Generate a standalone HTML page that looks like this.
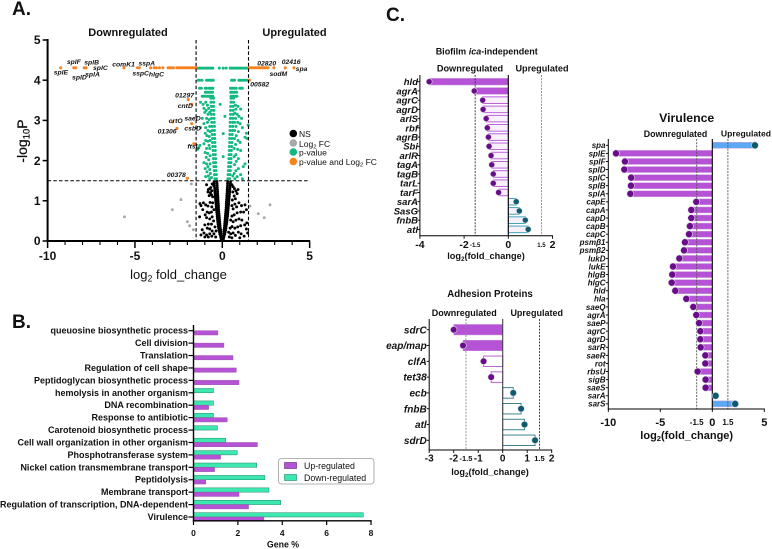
<!DOCTYPE html>
<html>
<head>
<meta charset="utf-8">
<style>
html,body{margin:0;padding:0;background:#fff;}
svg{display:block;}
text{font-family:"Liberation Sans",sans-serif;fill:#111;}
</style>
</head>
<body>
<svg id="fig" width="772" height="549" viewBox="0 0 772 549" xmlns="http://www.w3.org/2000/svg">
<rect width="772" height="549" fill="#fff"/>
<text x="12" y="15" font-size="19" font-weight="bold">A.</text>
<text x="12" y="328" font-size="19" font-weight="bold">B.</text>
<text x="386" y="21" font-size="19" font-weight="bold">C.</text>

<text x="128" y="36" font-size="11" font-weight="bold" text-anchor="middle">Downregulated</text>
<text x="294.5" y="36" font-size="11" font-weight="bold" text-anchor="middle">Upregulated</text>
<text x="178.5" y="279" font-size="13" text-anchor="middle" fill="#222">log<tspan font-size="8.8" dy="2.5">2</tspan><tspan dy="-2.5"> fold_change</tspan></text>
<text transform="rotate(-90 27 141)" x="27" y="141" font-size="14" text-anchor="middle" stroke="#111" stroke-width="0.25">-log<tspan font-size="9.5" dy="2.5">10</tspan><tspan dy="-2.5">P</tspan></text>

<g>
<circle cx="293.3" cy="133.5" r="3.8" fill="#000"/>
<circle cx="293.3" cy="143" r="3.8" fill="#a8a8ab"/>
<circle cx="293.3" cy="152" r="3.8" fill="#12b981"/>
<circle cx="293.3" cy="161.5" r="3.8" fill="#f5821f"/>
<text x="299" y="137" font-size="8.5" fill="#333">NS</text>
<text x="299" y="147" font-size="8.5" fill="#333">Log<tspan font-size="5.8" dy="1.5">2</tspan><tspan dy="-1.5"> FC</tspan></text>
<text x="299" y="155.5" font-size="8.5" fill="#333">p-value</text>
<text x="299" y="165" font-size="8.5" fill="#333">p-value and Log<tspan font-size="5.8" dy="1.5">2</tspan><tspan dy="-1.5"> FC</tspan></text>
</g>

<text x="283" y="547.5" font-size="8.8" font-weight="bold" text-anchor="middle">Gene %</text>
<g>
<rect x="278.5" y="458.5" width="95.5" height="25.5" rx="3" fill="#fff" stroke="#9a9a9a" stroke-width="0.8"/>
<rect x="284.5" y="462.5" width="12" height="6" fill="#b552d6" stroke="#5b2a6e" stroke-width="0.6"/>
<rect x="284.5" y="474.5" width="12" height="6" fill="#3de8b0" stroke="#1c8a6a" stroke-width="0.6"/>
<text x="304" y="469" font-size="8.8" fill="#444">Up-regulated</text>
<text x="304" y="481" font-size="8.8" fill="#444">Down-regulated</text>
</g>

<text x="486.7" y="54.7" font-size="9" font-weight="bold" text-anchor="middle">Biofilm <tspan font-style="italic">ica</tspan>-independent</text>
<text x="470" y="71.5" font-size="9.2" font-weight="bold" text-anchor="middle">Downregulated</text>
<text x="542" y="71.5" font-size="9.1" font-weight="bold" text-anchor="middle">Upregulated</text>
<text x="486" y="259" font-size="9.2" font-weight="bold" text-anchor="middle">log<tspan font-size="6.4" dy="2">2</tspan><tspan dy="-2">(fold_change)</tspan></text>

<text x="490" y="297" font-size="9.7" font-weight="bold" text-anchor="middle">Adhesion Proteins</text>
<text x="464.3" y="316" font-size="9" font-weight="bold" text-anchor="middle">Downregulated</text>
<text x="536.7" y="316" font-size="9" font-weight="bold" text-anchor="middle">Upregulated</text>
<text x="490" y="475" font-size="9.2" font-weight="bold" text-anchor="middle">log<tspan font-size="6.4" dy="2">2</tspan><tspan dy="-2">(fold_change)</tspan></text>

<text x="686.7" y="122" font-size="12.3" font-weight="bold" text-anchor="middle">Virulence</text>
<text x="675.5" y="137" font-size="8.8" font-weight="bold" text-anchor="middle">Downregulated</text>
<text x="746" y="136.5" font-size="8.6" font-weight="bold" text-anchor="middle">Upregulated</text>
<text x="686.7" y="439" font-size="11" font-weight="bold" text-anchor="middle">log<tspan font-size="7.5" dy="2">2</tspan><tspan dy="-2">(fold_change)</tspan></text>
</svg>
<script>
/* ---------- Panel A: volcano data (log2FC, -log10P) ---------- */
const nsPoints = [
[-.06,.03],[.06,.03],[-.08,.08],[.08,.08],[-.03,.06],[.03,.06],[-.1,.12],[.1,.12],[-.05,.12],[.05,.12],[-.14,.17],[.14,.17],[-.08,.18],[.08,.18],[-.16,.22],[.16,.22],[-.09,.23],[.09,.23],
[-.19,.27],[.19,.27],[-.1,.28],[.1,.28],[-.21,.32],[.21,.32],[-.12,.33],[.12,.33],[-.23,.37],[.22,.37],[-.13,.38],[.13,.38],[-.24,.42],[.24,.42],[-.14,.43],[.14,.43],[-.26,.47],[.26,.47],[-.15,.48],[.15,.48],
[-.27,.52],[.27,.52],[-.16,.53],[.16,.53],[-.28,.57],[.28,.57],[-.17,.58],[.17,.58],[-.29,.62],[.3,.62],[-.18,.63],[.18,.63],[-.3,.67],[.31,.67],[-.19,.68],[.19,.68],[-.32,.72],[.32,.72],[-.2,.73],[.2,.73],
[-.33,.77],[.33,.77],[-.21,.78],[.21,.78],[-.34,.82],[.34,.82],[-.22,.83],[.22,.83],[-.35,.87],[.35,.87],[-.22,.88],[.23,.88],[-.36,.92],[.36,.92],[-.23,.93],[.23,.93],[-.37,.97],[.37,.97],[-.24,.98],[.24,.98],
[-.38,1.02],[.38,1.02],[-.25,1.03],[.25,1.03],[-.39,1.07],[.39,1.07],[-.25,1.08],[.26,1.08],[-.4,1.12],[.4,1.12],[-.26,1.13],[.26,1.13],[-.41,1.17],[.41,1.17],[-.27,1.18],[.27,1.18],[-.42,1.22],[.42,1.22],[-.27,1.23],[.28,1.23],
[-.43,1.27],[.43,1.27],[-.28,1.28],[.28,1.28],[-.44,1.32],[.44,1.32],[-.29,1.33],[.29,1.33],[-.45,1.37],[.45,1.37],[-.29,1.38],[.3,1.38],[-.46,1.42],[.46,1.42],[-.3,1.43],[.3,1.43],[-.47,1.47],[.47,1.47],[-.31,1.48],[.31,1.48],
[-.58,1.42],[-.66,1.33],[-.72,1.3],[-.8,1.28],[-.6,1.25],[-.68,1.2],[-.62,1.15],[-.75,1.13],[-.55,1.1],[-.82,1.22],[-.9,1.4],[-.5,1.38],[.55,1.4],[.62,1.35],[.7,1.3],[.78,1.24],[.6,1.22],[.9,1.28],[.85,1.18],[.68,1.12],[.75,1.05],[.58,1.02],
[-1.28,.93],[-1.22,.88],[-1.08,.95],[-.95,.9],[-.82,.87],[-.7,.96],[-.6,.85],[-.55,.95],[-.48,.78],[-.62,.72],[-.75,.7],[-.87,.72],[-.98,.65],[-1.12,.78],[-1.3,.6],[-.9,.58],[-.72,.55],[-.58,.6],[-.5,.5],[-.62,.42],[-.8,.42],[-1,.4],[-.86,.32],[-.72,.3],[-1.15,.28],[-1.22,.15],[-1.05,.2],[-.9,.15],[-.72,.18],[-.58,.25],[-.48,.18],[-.6,.12],[-.8,.1],[-1,.1],[-.38,.1],[-.36,.25],[-.42,.35],
[.55,.88],[.62,.8],[.72,.92],[.82,.85],[.95,.95],[1.1,.88],[1.3,.9],[1.38,.78],[1.22,.72],[1.05,.72],[.85,.7],[.68,.65],[.55,.62],[.48,.52],[.62,.48],[.78,.52],[.95,.55],[1.12,.52],[1.4,.45],[1.28,.4],[1.05,.38],[.88,.35],[.72,.32],[.56,.36],[.45,.32],[.48,.18],[.62,.2],[.75,.14],[.92,.22],[1.08,.18],[1.25,.12],[1.45,.2],[1.38,.3],[.4,.1],[.55,.08],[1,.08],[.36,.22]
];
const log2fcPoints = [[-5.6,.6],[-2.86,.78],[-2.37,1.03],[-1.77,1.42],[-2,.48],[-1.87,.38],[-1.66,.28],[1.58,.87],[2.06,.68],[2.4,.58],[2.73,.9]];
const pvaluePoints = [
[-1.48,4.3],[-1.4,4.3],[-1.3,4.3],[-1.2,4.3],[-1.1,4.3],[-1,4.3],[-.9,4.3],[-.8,4.3],[-.7,4.3],[-.62,4.3],[-.54,4.3],[.05,4.3],[.45,4.3],[.54,4.3],[.62,4.3],[.7,4.3],[.8,4.3],[.9,4.3],[1,4.3],[1.1,4.3],[1.2,4.3],[1.3,4.3],[1.4,4.3],[1.47,4.3],[-.17,4.3],[.22,4.3],
[-1.38,4],[-1.3,4],[-1.16,4],[-.9,4],[-.82,4],[-.74,4],[-.66,4],[-.58,4],[-.52,4],[.53,4],[.6,4],[.7,4],[.95,4],[1.02,4],[1.1,4],[1.2,4],[1.3,4],[1.42,4],
[-1.3,3.8],[-1.2,3.8],[-.98,3.8],[-.9,3.8],[-.76,3.8],[-.68,3.8],[-.6,3.8],[-.54,3.8],[.47,3.8],[.55,3.8],[.62,3.8],[.72,3.8],[.8,3.8],[1,3.8],[1.08,3.8],[1.15,3.8],
[-.97,3.7],[-.9,3.7],[-.82,3.7],[-.72,3.7],[-.64,3.7],[-.56,3.7],[.48,3.7],[.55,3.7],[.64,3.7],[.72,3.7],[.82,3.7],
[-1.15,3.6],[-1.07,3.6],[-.98,3.6],[-.86,3.6],[-.78,3.6],[-.7,3.6],[-.62,3.6],[-.54,3.6],[.5,3.6],[.58,3.6],[.66,3.6],[.74,3.6],[.84,3.6],
[-.5,3.55],[-.65,3.55],[.5,3.55],[.64,3.55],[-.5,3.45],[-.65,3.45],[.5,3.45],[.64,3.45],[-.5,3.35],[-.63,3.35],[.48,3.35],[.62,3.35],[-.48,3.25],[-.62,3.25],[.47,3.25],[.62,3.25],[-.48,3.15],[-.63,3.15],[.47,3.15],[.62,3.15],[-.47,3.05],[-.62,3.05],[.46,3.05],[.6,3.05],
[-.46,2.95],[-.6,2.95],[.45,2.95],[.6,2.95],[-.45,2.85],[-.6,2.85],[.45,2.85],[.6,2.85],[-.45,2.75],[-.58,2.75],[.44,2.75],[.58,2.75],[-.44,2.65],[-.58,2.65],[.43,2.65],[.57,2.65],[-.43,2.55],[-.56,2.55],[.42,2.55],[.56,2.55],[-.42,2.45],[-.56,2.45],[.42,2.45],[.55,2.45],
[-.41,2.35],[-.55,2.35],[.4,2.35],[.54,2.35],[-.4,2.25],[-.53,2.25],[.4,2.25],[.52,2.25],[-.4,2.15],[-.52,2.15],[.39,2.15],[.5,2.15],[-.38,2.05],[-.51,2.05],[.38,2.05],[.5,2.05],[-.38,1.95],[-.5,1.95],[.37,1.95],[.49,1.95],[-.37,1.85],[-.48,1.85],[.36,1.85],[.47,1.85],[-.36,1.75],[-.46,1.75],[.35,1.75],[.46,1.75],[-.34,1.65],[-.45,1.65],[.33,1.65],[.44,1.65],[-.33,1.55],[-.42,1.55],[.32,1.55],[.42,1.55],
[-1.25,3.45],[-1.1,3.4],[-.95,3.45],[-.85,3.38],[-1.05,3.3],[-.92,3.25],[-.78,3.3],[-1,3.2],[-.82,3.15],[-.72,3.2],[-1.15,3.05],[-.9,3.05],[-.76,3.02],[-1.25,2.82],[-1.05,2.92],[-.85,2.95],[-.95,2.82],[-.72,2.85],[-.82,2.75],[-.7,2.72],[-.98,2.68],[-.88,2.62],[-.75,2.6],[-.7,2.5],[-.95,2.5],[-.82,2.48],[-1.05,2.42],[-.76,2.38],[-.9,2.3],[-.72,2.3],[-1.42,2.28],[-1.28,2.38],[-1.35,2.32],[-.98,2.2],[-.84,2.18],[-.7,2.12],[-.92,2.08],[-.78,2.02],[-1.05,1.95],[-.9,1.92],[-.7,1.92],[-.82,1.85],[-.98,1.8],[-.72,1.78],[-.88,1.72],[-.68,1.68],[-.8,1.62],[-.95,1.6],[-.72,1.55],[-.62,1.58],
[.75,3.38],[.9,3.35],[1.05,3.28],[.78,3.28],[.72,3.18],[.85,3.15],[.95,3.1],[1.1,3.05],[.76,3.05],[.7,2.95],[.88,2.95],[1.02,2.92],[1.15,2.82],[.78,2.85],[.7,2.75],[.92,2.72],[1.48,2.88],[1.38,2.68],[1.3,2.58],[1.42,2.55],[.8,2.62],[.7,2.55],[.9,2.5],[1.02,2.45],[.76,2.4],[.68,2.3],[.88,2.28],[1.05,2.25],[.78,2.15],[.68,2.1],[.92,2.05],[.8,1.98],[.7,1.9],[1.3,1.92],[1.2,1.85],[.92,1.8],[.78,1.75],[.68,1.68],[1.05,1.65],[.85,1.6],[.72,1.55],[1.15,1.55],[.6,1.62],[.05,2.67],[.05,2.1],
[-.12,3.4],[.15,3.1]
];
const bothPoints = [
[-9.25,4.31],[-8.5,4.31],[-8.4,4.31],[-7.9,4.31],[-7.8,4.31],[-5.63,4.31],[-4.85,4.31],[-4.75,4.31],[-4.1,4.31],[-3.9,4.31],[-3.78,4.31],[-3.6,4.31],[-3.4,4.31],[-3.1,4.31],[-3,4.31],[-2.9,4.31],[-2.8,4.31],
[-2.6,4.31],[-2.5,4.31],[-2.4,4.31],[-2.3,4.31],[-2.2,4.31],[-2.1,4.31],[-2,4.31],[-1.9,4.31],[-1.8,4.31],[-1.7,4.31],[-1.6,4.31],[-1.52,4.31],
[1.52,4.31],[1.6,4.31],[1.7,4.31],[1.8,4.31],[1.9,4.31],[2,4.31],[2.1,4.31],[2.2,4.31],[2.3,4.31],[2.4,4.31],[2.5,4.31],[2.62,4.31],[2.95,4.31],[3.6,4.31],[4.1,4.31],
[1.55,4],[-1.95,3.52],[-1.75,3.4],[-2.84,2.96],[-1.75,2.92],[-2.6,2.8],[-1.63,2.42],[-2,1.56]
];
const volcanoXTicks = [-10,-5,0,5];
const volcanoXMinorTicks = [-9,-8,-7,-6,-4,-3,-2,-1,1,2,3,4];
const volcanoYTicks = [0,1,2,3,4,5];
const geneLabels = ['splE','splF','splD','splB','splA','splC','comK1','sspA','sspC','hlgC','02820','sodM','02416','spa','00582','01297','cntD','saeD','crtO','csbD','01306','ftsL','00378'];
const geneLabelFc = [-9.65,-8.9,-8.6,-7.9,-7.85,-7.4,-6.3,-4.8,-5.15,-4.2,2,2.7,3.4,4.2,1.6,-2.7,-2.55,-2.17,-3.07,-2.17,-3.7,-2.0,-3.17];
const geneLabelP = [4.14,4.4,4.02,4.39,4.09,4.25,4.34,4.36,4.12,4.09,4.36,4.11,4.4,4.23,3.84,3.57,3.31,3.0,2.93,2.75,2.67,2.3,1.59];

/* ---------- Panel B: grouped bars ---------- */
const goCategories = ['queuosine biosynthetic process','Cell division','Translation','Regulation of cell shape','Peptidoglycan biosynthetic process','hemolysis in another organism','DNA recombination','Response to antibiotic','Carotenoid biosynthetic process','Cell wall organization in other organism','Phosphotransferase system','Nickel cation transmembrane transport','Peptidolysis','Membrane transport','Regulation of transcription, DNA-dependent','Virulence'];
const goUp = [1.1,1.37,1.78,1.93,2.05,0,.68,1.52,0,2.88,1.22,.95,.55,2.05,2.48,3.17];
const goDown = [0,0,0,0,0,.9,.9,.9,1.08,1.45,1.97,2.85,3.22,3.4,3.93,7.65];
const goTicks = [0,2,4,6,8];

/* ---------- Panel C: lollipop bars ---------- */
const biofilmGenes = ['hld','agrA','agrC','agrD','arlS','rbf','agrB','Sbi','arlR','tagA','tagB','tarL','tarF','sarA','SasG','fnbB','atl'];
const biofilmValues = [-3.58,-1.54,-1.16,-1.14,-1,-.95,-.9,-.87,-.78,-.75,-.68,-.68,-.44,.36,.5,.77,.9];
const biofilmTicks = [-4,-2,0,2];
const adhesionGenes = ['sdrC','eap/map','clfA','tet38','ecb','fnbB','atl','sdrD'];
const adhesionValues = [-2,-1.62,-.78,-.47,.43,.75,.89,1.32];
const adhesionTicks = [-3,-2,-1,0,1,2];
const virulenceGenes = ['spa','splE','splF','splD','splC','splB','splA','capE','capA','capD','capB','capC','psmβ1','psmβ2','lukD','lukE','hlgB','hlgC','hld','hla','saeQ','agrA','saeP','agrC','agrD','sarR','saeR','rot','rbsU','sigB','saeS','sarA','sarS'];
const virulenceValues = [4.1,-9.26,-8.4,-8.46,-7.8,-7.82,-7.88,-1.54,-2.02,-2.02,-2.15,-2.24,-2.63,-2.72,-3.17,-3.78,-3.85,-3.9,-3.56,-2.5,-1.83,-1.54,-1.28,-1.15,-1.15,-1.12,-.67,-.67,-1.41,-.64,-.64,.32,2.2];
const virulenceTicks = [-10,-5,0,5];
const thresholdTicks = [-1.5,1.5];

const NS = 'http://www.w3.org/2000/svg';
const fig = document.getElementById('fig');
function mk(parent, tag, attrs, name, text) {
  const el = document.createElementNS(NS, tag);
  for (const k in attrs) el.setAttribute(k, attrs[k]);
  
  
  if (text !== undefined) el.textContent = text;
  parent.appendChild(el);
  return el;
}
function line(p, x1, y1, x2, y2, w, name, c, dash) {
  const a = {x1:x1, y1:y1, x2:x2, y2:y2, stroke:c || '#000', 'stroke-width':w};
  if (dash) a['stroke-dasharray'] = dash;
  return mk(p, 'line', a, name);
}

/* Volcano */
const xA = v => 222.3 + v * 17.47;
const yA = v => 241 - v * 40.2;
const gA = mk(fig, 'g', {}, 'volcano-plot');
function dots(arr, r, c, name) {
  arr.forEach(d => mk(gA, 'circle', {cx:xA(d[0]), cy:yA(d[1]), r:r, fill:c}, name));
}
dots(nsPoints, 1.45, '#000', 'ns-point');
dots(log2fcPoints, 1.45, '#a8a8ab', 'log2fc-point');
dots(pvaluePoints, 1.5, '#12b981', 'pvalue-point');
dots(bothPoints, 1.55, '#f5821f', 'pvalue-and-log2fc-point');
[-1.5,1.5].forEach(v => line(gA, xA(v), yA(5), xA(v), yA(0), 1.1, 'fold-change-threshold', '#000', '3.5 2.2'));
line(gA, xA(-10), yA(1.5), xA(5), yA(1.5), 1, 'p-value-threshold', '#000', '3.5 2.2');
line(gA, xA(-10), yA(0), xA(5) + .5, yA(0), 2, 'volcano-x-axis');
line(gA, xA(-10), yA(5) - 1, xA(-10), yA(0) + 1, 2, 'volcano-y-axis');
volcanoXTicks.forEach(v => {
  line(gA, xA(v), yA(0), xA(v), yA(0) + 7, 1.5, 'volcano-x-tick');
  mk(gA, 'text', {x:xA(v), y:260, 'font-size':12, 'font-weight':'bold', 'text-anchor':'middle'}, 'volcano-x-tick-label', v);
});
volcanoXMinorTicks.forEach(v => line(gA, xA(v), yA(0), xA(v), yA(0) + 4, 1.1, 'volcano-x-minor-tick'));
volcanoYTicks.forEach(v => {
  line(gA, xA(-10) - 5, yA(v), xA(-10), yA(v), 1.5, 'volcano-y-tick');
  mk(gA, 'text', {x:xA(-10) - 7, y:yA(v) + 4.2, 'font-size':12, 'font-weight':'bold', 'text-anchor':'end'}, 'volcano-y-tick-label', v);
});
geneLabels.forEach((t, i) => {
  mk(gA, 'text', {x:xA(geneLabelFc[i]), y:yA(geneLabelP[i]), 'font-size':6.8, 'font-weight':'bold', 'font-style':'italic', fill:'#222'}, 'gene-label', t);
});

/* Grouped bars */
const xB = v => 193.5 + v * 22.19;
const yB = i => 330.7 + i * 12.42;
const gB = mk(fig, 'g', {}, 'go-bar-chart');
goCategories.forEach((c, i) => {
  if (goDown[i] > 0) mk(gB, 'rect', {x:xB(0), y:yB(i) - 4.3, width:xB(goDown[i]) - xB(0), height:4.3, fill:'#3de8b0', stroke:'#1c8a6a', 'stroke-width':.5}, 'bar-down-regulated');
  if (goUp[i] > 0) mk(gB, 'rect', {x:xB(0), y:yB(i), width:xB(goUp[i]) - xB(0), height:4.3, fill:'#b552d6', stroke:'#9a55a8', 'stroke-width':.5}, 'bar-up-regulated');
  line(gB, xB(0) - 5, yB(i), xB(0), yB(i), 1.2, 'go-category-tick');
  mk(gB, 'text', {x:188, y:yB(i) + 3, 'font-size':9, 'font-weight':'bold', 'text-anchor':'end', fill:'#222'}, 'go-category-label', c);
});
line(gB, xB(0), 325, xB(0), 521.5, 1.4, 'go-y-axis');
line(gB, xB(0) - .7, 520.8, xB(8) + .7, 520.8, 1.4, 'go-x-axis');
goTicks.forEach(v => {
  line(gB, xB(v), 520.8, xB(v), 525, 1.2, 'go-x-tick');
  mk(gB, 'text', {x:xB(v), y:536, 'font-size':8.5, 'font-weight':'bold', 'text-anchor':'middle', fill:'#222'}, 'go-x-tick-label', v);
});

/* Lollipop panels */
function lollipop(o) {
  const g = mk(fig, 'g', {}, o.name);
  const x = v => o.x0 + v * o.unit;
  const y = i => o.y0 + i * o.step;
  const left = x(o.xMin), right = x(o.xMax);
  o.values.forEach((v, i) => {
    const neg = v < 0;
    const solid = o.allSolid || Math.abs(v) >= 1.5;
    const col = neg ? '#b552d6' : o.upColor;
    const a = {x:Math.min(x(0), x(v)), y:y(i) - o.barH / 2, width:Math.abs(x(v) - x(0)), height:o.barH, fill:solid ? (neg ? '#b552d6' : o.upFill) : o.openFill, stroke:solid ? o.solidStroke : col, 'stroke-width':solid ? .5 : .9};
    mk(g, 'rect', a, 'lollipop-bar');
  });
  thresholdTicks.forEach(v => line(g, x(v), o.top, x(v), o.bottom, .9, 'threshold-line', v < 0 ? o.dashLeft : o.dashRight, '2 1.2'));
  line(g, x(0), o.top, x(0), o.bottom, 1.1, 'zero-line', o.zero);
  o.values.forEach((v, i) => {
    mk(g, 'circle', {cx:x(v), cy:y(i), r:o.r, fill:v < 0 ? '#6a0a8c' : '#0e5a6e', stroke:'#dcdcdc', 'stroke-width':.6}, 'lollipop-dot');
  });
  line(g, left, o.top, left, o.bottom + .5, 1, 'lollipop-y-axis');
  line(g, left - .5, o.bottom, right + .5, o.bottom, 1, 'lollipop-x-axis');
  o.genes.forEach((t, i) => {
    line(g, left - 2.5, y(i), left, y(i), .9, 'lollipop-category-tick');
    mk(g, 'text', {x:o.labelX, y:y(i) + o.labelSize * .36, 'font-size':o.labelSize, 'font-weight':'bold', 'font-style':'italic', 'text-anchor':'end'}, 'gene-category-label', t);
  });
  o.ticks.forEach(v => {
    line(g, x(v), o.bottom, x(v), o.bottom + 3, .9, 'lollipop-x-tick');
    mk(g, 'text', {x:x(v), y:o.tickY, 'font-size':o.tickSize, 'font-weight':'bold', 'text-anchor':'middle'}, 'lollipop-x-tick-label', v);
  });
  thresholdTicks.forEach(v => {
    mk(g, 'text', {x:x(v), y:o.tickY - .8, 'font-size':o.smallSize, 'font-weight':'bold', 'text-anchor':'middle', fill:'#333'}, 'threshold-tick-label', v);
  });
}
lollipop({name:'biofilm-lollipop', genes:biofilmGenes, values:biofilmValues, ticks:biofilmTicks, x0:508.3, unit:22.1, xMin:-4, xMax:2, y0:81.7, step:9.23, top:75, bottom:235.7, barH:6.6, r:3, labelX:418, labelSize:9.5, tickY:248, tickSize:10.5, smallSize:6, upColor:'#2a9db0', upFill:'#2a9db0', openFill:'#f8f0fb', solidStroke:'#c58fdc', dashLeft:'#333', dashRight:'#888', zero:'#000'});
lollipop({name:'adhesion-lollipop', genes:adhesionGenes, values:adhesionValues, ticks:adhesionTicks, x0:502.7, unit:24.5, xMin:-3, xMax:2, y0:329.7, step:15.8, top:319, bottom:450, barH:10.5, r:3.3, labelX:426.7, labelSize:10, tickY:461.7, tickSize:10, smallSize:7.5, upColor:'#2b7686', upFill:'#2b7686', openFill:'#fff', solidStroke:'#c58fdc', dashLeft:'#888', dashRight:'#333', zero:'#444'});
lollipop({name:'virulence-lollipop', genes:virulenceGenes, values:virulenceValues, ticks:virulenceTicks, x0:712.3, unit:10.4, xMin:-10, xMax:5, y0:145.3, step:8.08, top:139, bottom:409, barH:6, r:3.5, labelX:605.5, labelSize:8, tickY:426, tickSize:11, smallSize:8, upColor:'#5ba8f5', upFill:'#5ba8f5', openFill:'#b552d6', solidStroke:'#cfa4de', dashLeft:'#555', dashRight:'#555', zero:'#000', allSolid:true});
</script>
</body>
</html>
